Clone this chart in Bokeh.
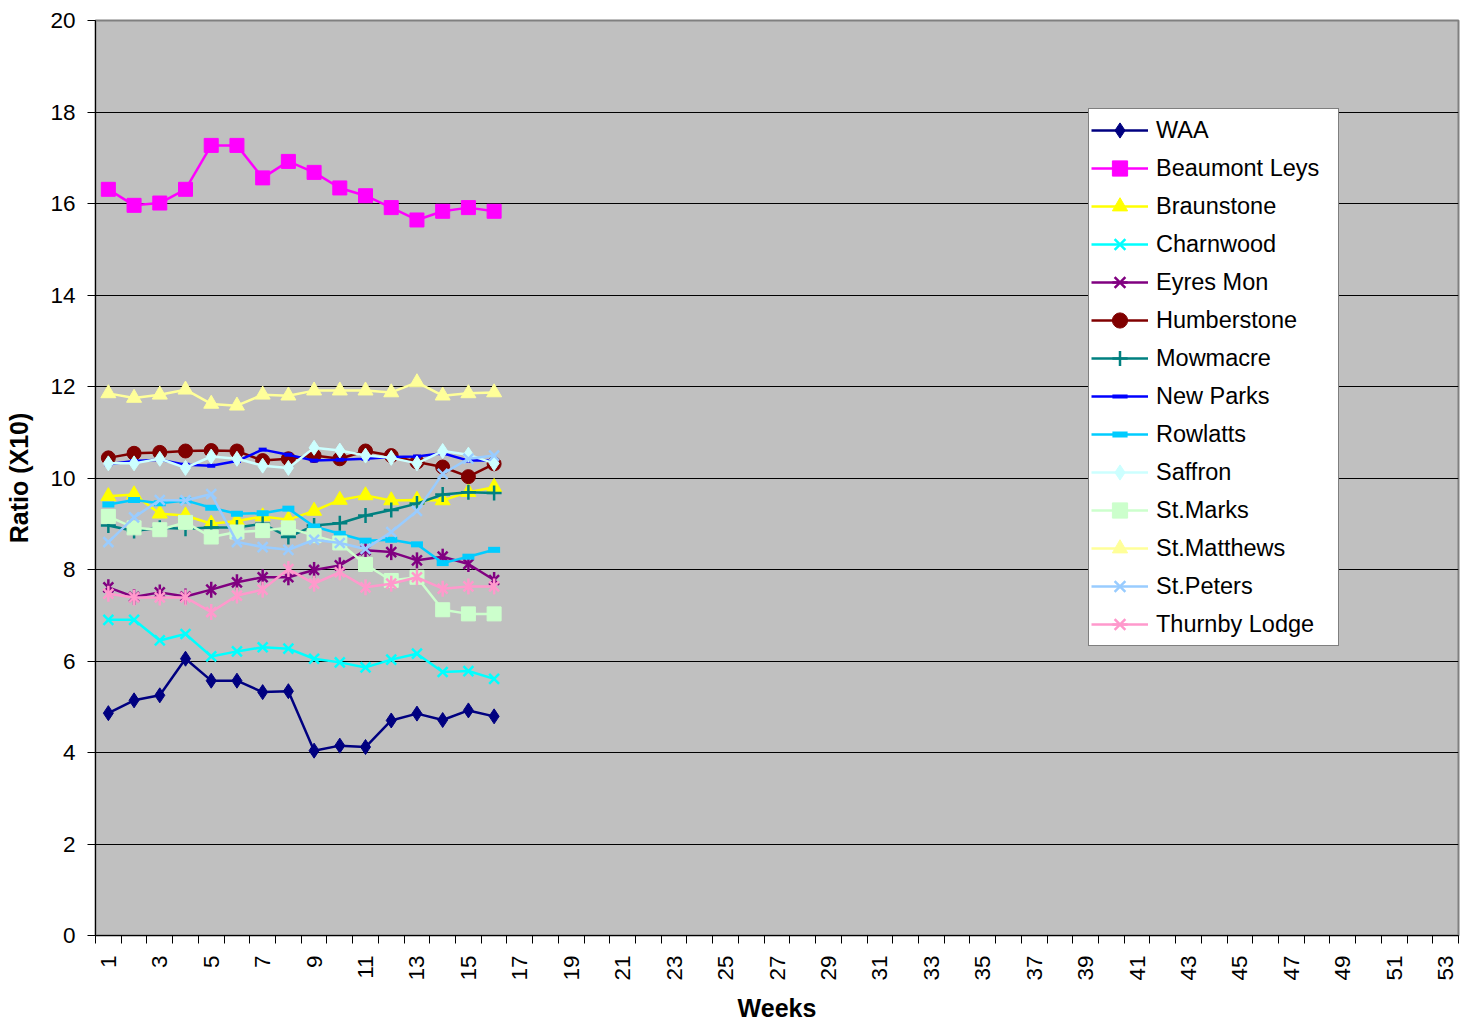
from bokeh.plotting import figure
from bokeh.models import Range1d, FixedTicker, Legend, LegendItem, ColumnDataSource
from bokeh.embed import file_html
from bokeh.resources import INLINE
import math

weeks = list(range(1, 17))

waa = [4.86, 5.14, 5.25, 6.05, 5.57, 5.57, 5.32, 5.34, 4.04, 4.15, 4.12, 4.70, 4.85, 4.71, 4.92, 4.79]
beaumont_leys = [16.31, 15.96, 16.01, 16.31, 17.27, 17.27, 16.56, 16.92, 16.68, 16.34, 16.17, 15.91, 15.64, 15.83, 15.91, 15.83]
braunstone = [9.60, 9.64, 9.22, 9.18, 9.00, 9.06, 9.16, 9.09, 9.28, 9.52, 9.62, 9.51, 9.52, 9.51, 9.69, 9.80]
charnwood = [6.90, 6.90, 6.45, 6.59, 6.10, 6.21, 6.30, 6.27, 6.05, 5.97, 5.86, 6.03, 6.16, 5.76, 5.78, 5.61]
eyres_mon = [7.61, 7.40, 7.50, 7.41, 7.56, 7.72, 7.83, 7.83, 7.99, 8.09, 8.42, 8.38, 8.20, 8.28, 8.12, 7.77]
humberstone = [10.44, 10.54, 10.56, 10.59, 10.60, 10.59, 10.38, 10.42, 10.49, 10.42, 10.59, 10.49, 10.35, 10.24, 10.03, 10.31]
mowmacre = [8.96, 8.84, 8.91, 8.89, 8.92, 8.92, 9.00, 8.71, 8.96, 9.01, 9.18, 9.30, 9.44, 9.64, 9.69, 9.67]
new_parks = [10.30, 10.37, 10.40, 10.29, 10.27, 10.37, 10.62, 10.51, 10.38, 10.40, 10.42, 10.46, 10.47, 10.54, 10.38, 10.38]
rowlatts = [9.42, 9.52, 9.45, 9.51, 9.35, 9.22, 9.23, 9.33, 8.94, 8.78, 8.63, 8.65, 8.55, 8.14, 8.28, 8.43]
saffron = [10.32, 10.32, 10.42, 10.22, 10.47, 10.42, 10.27, 10.22, 10.66, 10.60, 10.49, 10.44, 10.32, 10.59, 10.51, 10.32]
st_marks = [9.16, 8.91, 8.87, 9.03, 8.71, 8.82, 8.85, 8.91, 8.74, 8.58, 8.11, 7.76, 7.83, 7.12, 7.03, 7.03]
st_matthews = [11.85, 11.75, 11.82, 11.93, 11.62, 11.58, 11.82, 11.80, 11.91, 11.91, 11.91, 11.87, 12.09, 11.80, 11.85, 11.87]
st_peters = [8.60, 9.14, 9.52, 9.51, 9.65, 8.60, 8.49, 8.43, 8.65, 8.58, 8.45, 8.82, 9.28, 10.09, 10.42, 10.49]
thurnby_lodge = [7.47, 7.39, 7.39, 7.39, 7.07, 7.43, 7.56, 8.01, 7.69, 7.94, 7.61, 7.69, 7.83, 7.58, 7.63, 7.63]

x_tick_labels = [str(w) for w in range(1, 54, 2)]
y_ticks = list(range(0, 21, 2))

series = [
    ("WAA", waa, "#000080", "diamond", 15),
    ("Beaumont Leys", beaumont_leys, "#FF00FF", "square", 14),
    ("Braunstone", braunstone, "#FFFF00", "triangle", 15),
    ("Charnwood", charnwood, "#00FFFF", "x", 14),
    ("Eyres Mon", eyres_mon, "#800080", "star", 14),
    ("Humberstone", humberstone, "#800000", "circle", 14),
    ("Mowmacre", mowmacre, "#008080", "cross", 15),
    ("New Parks", new_parks, "#0000FF", "dash", 8),
    ("Rowlatts", rowlatts, "#00CCFF", "dash", 12),
    ("Saffron", saffron, "#CCFFFF", "diamond", 15),
    ("St.Marks", st_marks, "#CCFFCC", "square", 14),
    ("St.Matthews", st_matthews, "#FFFF99", "triangle", 15),
    ("St.Peters", st_peters, "#99CCFF", "x", 14),
    ("Thurnby Lodge", thurnby_lodge, "#FF99CC", "star", 14),
]

FONT = "Liberation Sans"

p = figure(width=1471, height=1026, output_backend="svg", toolbar_location=None,
           x_range=Range1d(0.5, 53.5), y_range=Range1d(0, 20),
           min_border_left=95, min_border_right=13, min_border_top=20, min_border_bottom=91)
p.background_fill_color = "#C0C0C0"
p.border_fill_color = "white"
p.outline_line_color = "#808080"
p.outline_line_width = 2

p.xgrid.grid_line_color = None
p.ygrid.grid_line_color = "black"
p.ygrid.grid_line_width = 1

p.xaxis.ticker = FixedTicker(ticks=list(range(1, 54, 2)),
                             minor_ticks=[w + 0.5 for w in range(0, 54)])
p.xaxis.major_label_overrides = {w: lab for w, lab in zip(range(1, 54, 2), x_tick_labels)}
p.xaxis.major_tick_line_color = None
p.xaxis.major_tick_out = 8
p.xaxis.major_tick_in = 0
p.xaxis.minor_tick_line_color = "black"
p.xaxis.minor_tick_out = 8
p.xaxis.minor_tick_in = 0
p.xaxis.major_label_orientation = math.pi / 2
p.xaxis.major_label_standoff = 12
p.xaxis.axis_label = "Weeks"
p.xaxis.axis_label_standoff = 10

p.yaxis.ticker = FixedTicker(ticks=y_ticks)
p.yaxis.major_tick_out = 8
p.yaxis.major_tick_in = 0
p.yaxis.minor_tick_line_color = None
p.yaxis.major_label_standoff = 12
p.yaxis.axis_label = "Ratio (X10)"
p.yaxis.axis_label_standoff = 14

for ax in (p.xaxis[0], p.yaxis[0]):
    ax.axis_line_color = "black"
    ax.axis_line_width = 1
    ax.major_label_text_font = FONT
    ax.major_label_text_font_size = "22.5px"
    ax.major_label_text_color = "black"
    ax.axis_label_text_font = FONT
    ax.axis_label_text_font_size = "25px"
    ax.axis_label_text_font_style = "bold"
    ax.axis_label_text_color = "black"

items = []
for name, vals, color, marker, size in series:
    src = ColumnDataSource(dict(x=weeks, y=vals))
    rs = [p.line("x", "y", source=src, line_color=color, line_width=2.5)]
    if marker == "star":
        rs.append(p.scatter("x", "y", source=src, marker="x", size=size, line_color=color, line_width=2.5))
        rs.append(p.scatter("x", "y", source=src, marker="dash", size=size + 2, angle=math.pi / 2,
                            line_color=color, line_width=2.5))
    elif marker in ("x", "cross"):
        rs.append(p.scatter("x", "y", source=src, marker=marker, size=size, line_color=color, line_width=2.5))
    elif marker == "dash":
        rs.append(p.scatter("x", "y", source=src, marker="dash", size=size, line_color=color,
                            line_width=size / 2))
    else:
        rs.append(p.scatter("x", "y", source=src, marker=marker, size=size, fill_color=color,
                            line_color=color, line_width=1))
    items.append(LegendItem(label=name, renderers=rs))

legend = Legend(items=items, location=(993, 289), orientation="vertical",
                background_fill_color="white", background_fill_alpha=1.0,
                border_line_color="black", border_line_width=1,
                label_text_font=FONT, label_text_font_size="23.5px", label_text_color="black",
                glyph_width=57, glyph_height=38, label_height=38, label_width=180,
                label_standoff=8, spacing=0, padding=2, margin=0)
p.add_layout(legend, "center")

open("out.html", "w").write(file_html(p, INLINE))
